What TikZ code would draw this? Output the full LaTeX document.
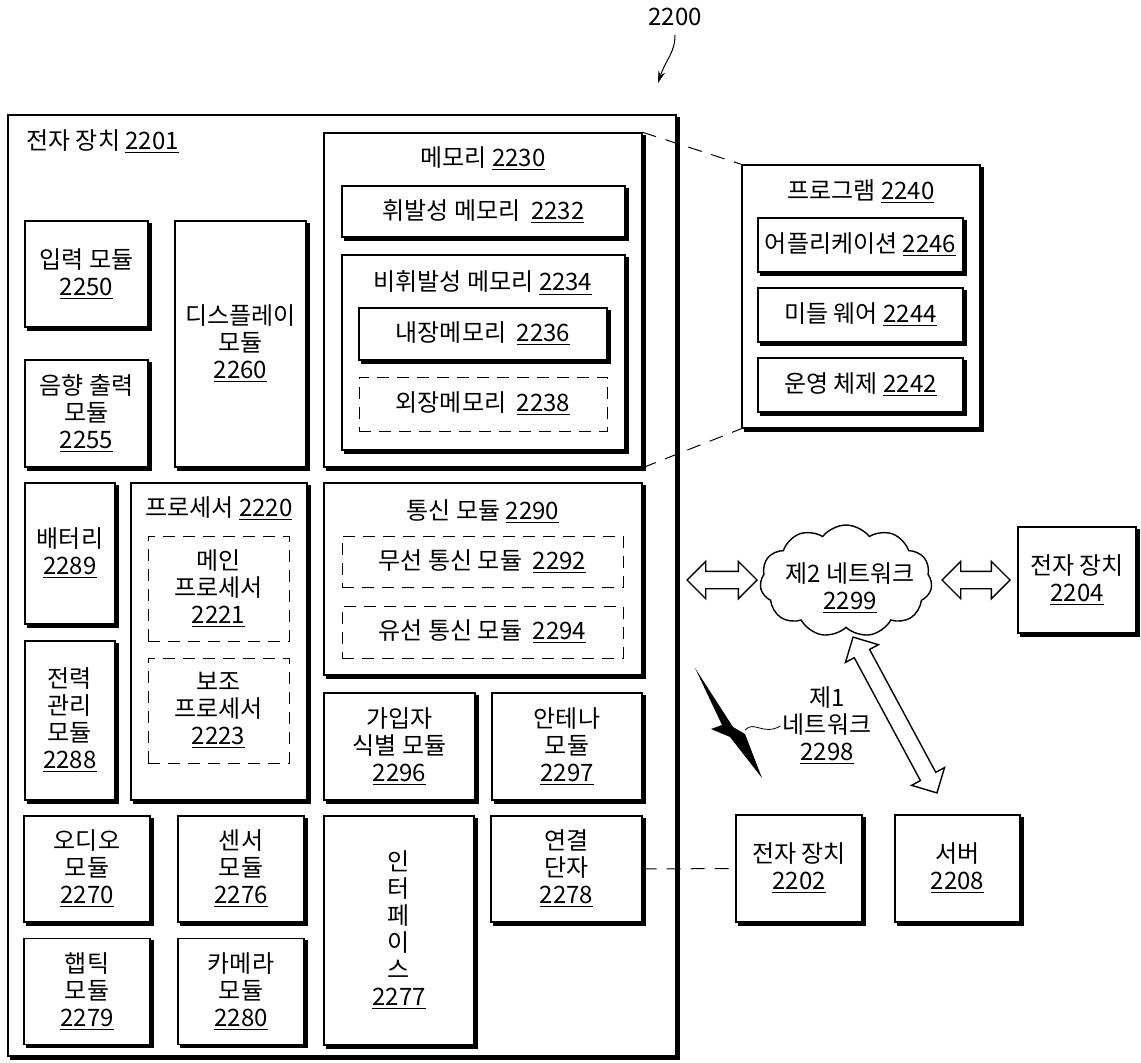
\documentclass[tikz,border=0pt]{standalone}
\usepackage{fontspec}
\setmainfont{Noto Sans CJK KR}
\usepackage{tikz}
\usetikzlibrary{arrows.meta,shapes.symbols,shapes.arrows}
\newcommand{\refnum}[1]{\underline{#1}}
\tikzset{
  px/.style 2 args={minimum width=#1*0.5pt,minimum height=#2*0.5pt},
  shadow-line/.style={draw,line width=1.6pt,line cap=rect,-},
  node-box/.style={draw,line width=0.7pt,fill=white,align=center,inner sep=0pt,
    append after command={
      ([xshift=0.8pt,yshift=-2pt]\tikzlastnode.north east)
        edge[shadow-line] ([xshift=0.8pt,yshift=-0.8pt]\tikzlastnode.south east)
      ([xshift=0.8pt,yshift=-0.8pt]\tikzlastnode.south east)
        edge[shadow-line] ([xshift=2pt,yshift=-0.8pt]\tikzlastnode.south west)}},
  node-dash/.style={draw,line width=0.5pt,dash pattern=on 6pt off 4pt,
    align=center,inner sep=0pt},
  node-title/.style={inner sep=1pt,align=center},
  link-dash/.style={line width=0.5pt,dash pattern=on 7pt off 5pt},
  fat-arrow/.style={double arrow,draw,line width=0.7pt,fill=white,inner sep=0pt,
    inner ysep=4pt,double arrow head extend=5pt,minimum height=#1},
}

\begin{document}
\begin{tikzpicture}[x=0.5pt,y=-0.5pt,font=\fontsize{12}{13.5}\selectfont]
  \useasboundingbox (0,0) rectangle (1141,1062);
  % figure number
  \node (FigNo) at (675,17) {2200};
  \coordinate (FigTip) at (658,83);
  \draw[line width=0.5pt,-{Stealth[length=6pt,width=3.5pt]}]
    ([yshift=-1pt]FigNo.south) .. controls +(0,18) and +(8,-24) .. (FigTip);

  % electronic device 2201
  \node[node-box,px={668}{941}] (Dev1) at (342,585.5) {};
  \node[node-title,anchor=west] (Dev1-title) at (24,142) {전자 장치 \refnum{2201}};
  \node[node-box,px={123}{106}] (In)   at (86.5,274)   {입력 모듈\\\refnum{2250}};
  \node[node-box,px={123}{107}] (Snd)  at (86.5,413.5) {음향 출력\\모듈\\\refnum{2255}};
  \node[node-box,px={131}{246}] (Disp) at (240.5,344)  {디스플레이\\모듈\\\refnum{2260}};

  % memory
  \node[node-box,px={318}{334}] (Mem) at (483,300) {};
  \node[node-title] (Mem-title) at (483,159) {메모리 \refnum{2230}};
  \node[node-box,px={283}{51}]  (Vol) at (483.5,211.5) {휘발성 메모리 \ \refnum{2232}};
  \node[node-box,px={283}{195}] (NonVol) at (483.5,352.5) {};
  \node[node-title] (NonVol-title) at (483,283) {비휘발성 메모리 \refnum{2234}};
  \node[node-box,px={248}{52}]  (IntMem) at (483,334) {내장메모리 \ \refnum{2236}};
  \node[node-dash,px={248}{54}] (ExtMem) at (483,404) {외장메모리 \ \refnum{2238}};

  % processor, power
  \node[node-box,px={90}{141}]  (Bat) at (70,553.5) {배터리\\\refnum{2289}};
  \node[node-box,px={90}{159}]  (Pwr) at (70,720.5) {전력\\관리\\모듈\\\refnum{2288}};
  \node[node-box,px={176}{317}] (Proc) at (219,641.5) {};
  \node[node-title] (Proc-title) at (219,509) {프로세서 \refnum{2220}};
  \node[node-dash,px={141}{105}] (MainProc) at (218.5,588.5) {메인\\프로세서\\\refnum{2221}};
  \node[node-dash,px={141}{105}] (AuxProc)  at (218.5,710.5) {보조\\프로세서\\\refnum{2223}};

  % communication
  \node[node-box,px={318}{192}] (Comm) at (483,579) {};
  \node[node-title] (Comm-title) at (483,512) {통신 모듈 \refnum{2290}};
  \node[node-dash,px={281}{51}] (Wless) at (482.5,561.5) {무선 통신 모듈 \ \refnum{2292}};
  \node[node-dash,px={281}{52}] (Wired) at (482.5,632)   {유선 통신 모듈 \ \refnum{2294}};
  \node[node-box,px={151}{107}] (Sim) at (399.5,746.5) {가입자\\식별 모듈\\\refnum{2296}};
  \node[node-box,px={150}{107}] (Ant) at (567,746.5)   {안테나\\모듈\\\refnum{2297}};

  % bottom modules
  \foreach \name/\x/\y/\txt/\num in {Aud/87/869/오디오/2270, Sens/241/869/센서/2276,
      Hap/87/991.5/햅틱/2279, Cam/241/991.5/카메라/2280} {
    \node[node-box,px={126}{106}] (\name) at (\x,\y) {\txt\\모듈\\\refnum{\num}};
  }
  \node[node-box,px={150}{229}] (Iface) at (399,930.5) {인\\터\\페\\이\\스\\\refnum{2277}};
  \node[node-box,px={151}{106}] (Conn) at (566.5,869) {연결\\단자\\\refnum{2278}};

  % program 2240
  \node[node-box,px={238}{263}] (Prog) at (861,296.5) {};
  \node[node-title] (Prog-title) at (861,192) {프로그램 \refnum{2240}};
  \foreach \name/\y/\txt in {App/245/어플리케이션 \refnum{2246},
      Mid/315/미들 웨어 \refnum{2244}, OS/385/운영 체제 \refnum{2242}} {
    \node[node-box,px={205}{54}] (\name) at (860.5,\y) {\txt};
  }
  \draw[link-dash] (Mem.north east) -- (Prog.north west);
  \draw[link-dash] (Mem.south east) -- (Prog.south west);

  % networks and external devices
  \node[node-box,px={118}{106}] (Dev4) at (1077,580)  {전자 장치\\\refnum{2204}};
  \node[node-box,px={126}{107}] (Dev2) at (799,868.5) {전자 장치\\\refnum{2202}};
  \node[node-box,px={125}{107}] (Srv)  at (957.5,868.5) {서버\\\refnum{2208}};
  \draw[link-dash] (Conn.east) -- (Dev2.west);

  \node[fat-arrow=35pt] (ArrL) at (722,580) {};
  \node[fat-arrow=34pt] (ArrR) at (976,580) {};
  \node[fat-arrow=88.5pt,rotate=-61.7] (ArrD) at (895,715) {};
  \node[cloud,draw,line width=0.7pt,fill=white,cloud puffs=11,cloud puff arc=105,
    cloud ignores aspect,minimum width=86pt,minimum height=56pt,inner sep=0pt]
    (Net2) at (846,581) {};
  \node[node-title] (Net2-title) at (850,588) {제2 네트워크\\\refnum{2299}};

  % first network (wireless)
  \fill (695,668) -- (733,727) -- (745,734) -- (762,778) -- (730,737)
    -- (711,729) -- (722,725) -- cycle;
  \node[node-title] (Net1) at (827,726) {제1\\네트워크\\\refnum{2298}};
  \draw[line width=0.4pt] (745,730) .. controls (754,720) and (763,736) .. (Net1.west);
\end{tikzpicture}
\end{document}
